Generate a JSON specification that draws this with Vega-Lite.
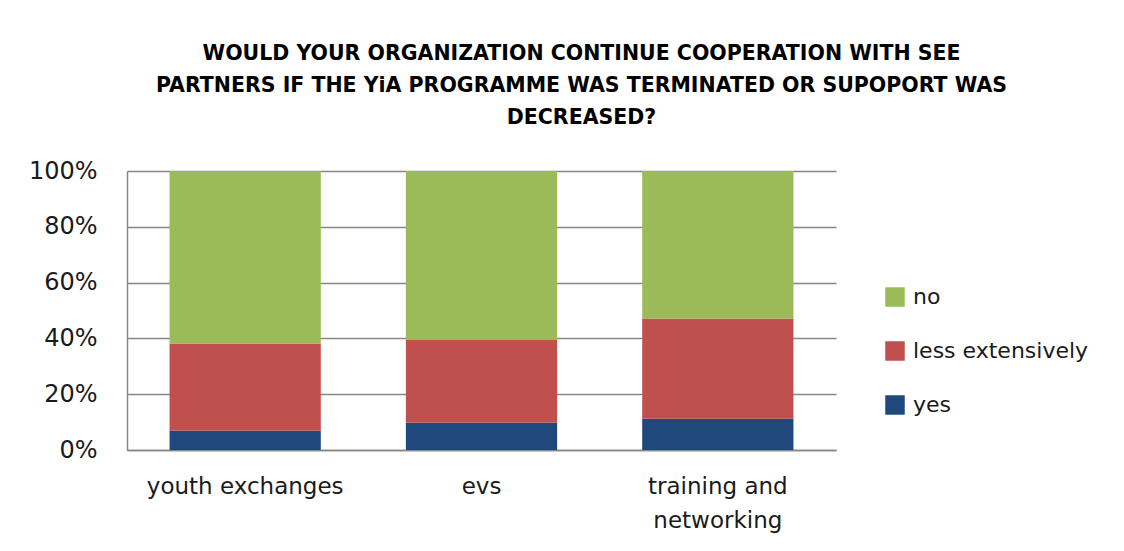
{
  "$schema": "https://vega.github.io/schema/vega-lite/v6.json",
  "width": 709,
  "height": 279,
  "autosize": {"type": "none"},
  "padding": {"left": 127, "top": 171, "right": 288, "bottom": 101},
  "background": "white",
  "title": {
    "text": ["WOULD YOUR ORGANIZATION CONTINUE COOPERATION WITH SEE", "PARTNERS IF THE YiA PROGRAMME WAS TERMINATED OR SUPOPORT WAS", "DECREASED?"],
    "anchor": "middle",
    "dx": 100,
    "offset": 31,
    "font": "DejaVu Sans",
    "fontSize": 20.5,
    "fontWeight": "bold",
    "color": "#000000",
    "lineHeight": 32
  },
  "data": {
    "values": [
      {"category": "youth exchanges", "response": "yes", "value": 6.9},
      {"category": "youth exchanges", "response": "less extensively", "value": 31.3},
      {"category": "youth exchanges", "response": "no", "value": 61.8},
      {"category": "evs", "response": "yes", "value": 9.8},
      {"category": "evs", "response": "less extensively", "value": 29.6},
      {"category": "evs", "response": "no", "value": 60.6},
      {"category": "training and networking", "response": "yes", "value": 11.2},
      {"category": "training and networking", "response": "less extensively", "value": 35.9},
      {"category": "training and networking", "response": "no", "value": 52.9}
    ]
  },
  "transform": [
    {"calculate": "indexof(['yes', 'less extensively', 'no'], datum.response)", "as": "stackOrder"}
  ],
  "mark": {"type": "bar"},
  "encoding": {
    "x": {
      "field": "category",
      "type": "nominal",
      "sort": ["youth exchanges", "evs", "training and networking"],
      "scale": {"paddingInner": 0.36, "paddingOuter": 0.18},
      "axis": {
        "title": null,
        "labelAngle": 0,
        "labelFont": "DejaVu Sans",
        "labelFontSize": 23,
        "labelColor": "#1a1a1a",
        "labelPadding": 25,
        "labelLineHeight": 34,
        "labelBaseline": "top",
        "labelLimit": 400,
        "labelExpr": "datum.value == 'training and networking' ? ['training and', 'networking'] : datum.value",
        "ticks": false,
        "domainColor": "#868686",
        "domainWidth": 1.5
      }
    },
    "y": {
      "field": "value",
      "type": "quantitative",
      "stack": "normalize",
      "scale": {"domain": [0, 1]},
      "axis": {
        "title": null,
        "format": ".0%",
        "values": [0, 0.2, 0.4, 0.6, 0.8, 1],
        "labelFont": "DejaVu Sans",
        "labelFontSize": 24,
        "labelColor": "#1a1a1a",
        "labelPadding": 30,
        "ticks": false,
        "grid": true,
        "gridColor": "#868686",
        "gridWidth": 1.5,
        "domainColor": "#868686",
        "domainWidth": 1.5
      }
    },
    "order": {"field": "stackOrder", "type": "quantitative", "sort": "ascending"},
    "color": {
      "field": "response",
      "type": "nominal",
      "scale": {
        "domain": ["yes", "less extensively", "no"],
        "range": ["#1F497D", "#C0504D", "#9BBB59"]
      },
      "legend": {
        "title": null,
        "values": ["no", "less extensively", "yes"],
        "orient": "none",
        "legendX": 757,
        "legendY": 115,
        "padding": 0,
        "symbolType": "square",
        "symbolSize": 380,
        "symbolStrokeWidth": 0,
        "labelFont": "DejaVu Sans",
        "labelFontSize": 22,
        "labelLimit": 300,
        "labelColor": "#1a1a1a",
        "labelOffset": 7,
        "rowPadding": 32
      }
    }
  },
  "config": {
    "view": {"stroke": null}
  }
}
